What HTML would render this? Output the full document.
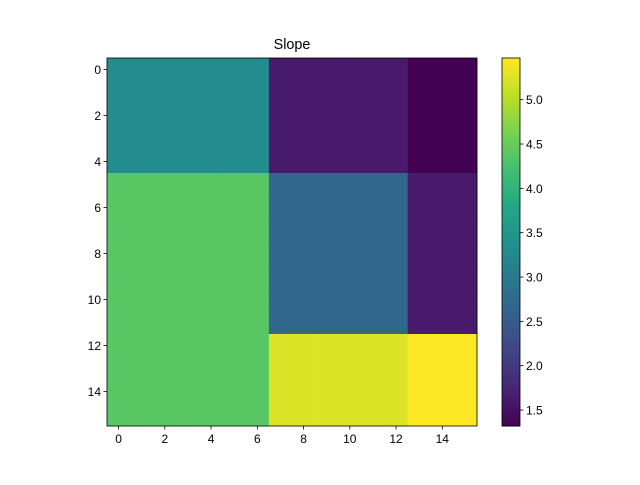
<!DOCTYPE html>
<html><head><meta charset="utf-8"><style>
body{margin:0;background:#fff}
svg text{font-family:"Liberation Sans","DejaVu Sans",sans-serif;font-size:12px;fill:#000}
</style></head><body>
<svg id="chart" width="640" height="480" xmlns="http://www.w3.org/2000/svg">
<rect width="640" height="480" fill="#fff"/>
<text x="292" y="49" text-anchor="middle" style="font-size:14.4px">Slope</text>
<g id="cells"></g><g id="axes"></g><g id="cbar"></g>
</svg>
<script>
const rowBlocks = [5, 7, 4];
const colBlocks = [7, 6, 3];
const blockValues = [
  [3.31, 1.62, 1.32],
  [4.39, 2.69, 1.62],
  [4.39, 5.26, 5.47]
];
const xTicks = [0, 2, 4, 6, 8, 10, 12, 14];
const yTicks = [0, 2, 4, 6, 8, 10, 12, 14];
const cbTicks = [1.5, 2.0, 2.5, 3.0, 3.5, 4.0, 4.5, 5.0];
const vmin = 1.32, vmax = 5.47;

const NS = "http://www.w3.org/2000/svg";
const L = 107, R = 477, T = 58, B = 426;
const nCols = colBlocks.reduce((a,b)=>a+b,0), nRows = rowBlocks.reduce((a,b)=>a+b,0);
const xs = v => L + (v + 0.5) * (R - L) / nCols;
const ys = v => T + (v + 0.5) * (B - T) / nRows;
const vir = ["#440154","#482475","#414487","#355f8d","#2a788e","#21918c","#22a884","#44bf70","#7ad151","#bddf26","#fde725"];
function hex(h){return [1,3,5].map(i=>parseInt(h.substr(i,2),16));}
function cmap(v){
  let t = Math.max(0, Math.min(1, (v - vmin) / (vmax - vmin))) * 10;
  let i = Math.min(9, Math.floor(t)), f = t - i;
  const a = hex(vir[i]), b = hex(vir[i+1]);
  return "rgb(" + a.map((c,k)=>Math.round(c + (b[k]-c)*f)).join(",") + ")";
}
function mk(tag, attrs, parent){
  const e = document.createElementNS(NS, tag);
  for (const k in attrs) e.setAttribute(k, attrs[k]);
  parent.appendChild(e); return e;
}
const cells = document.getElementById("cells");
let r0 = 0;
rowBlocks.forEach((rn, ri) => {
  let c0 = 0;
  colBlocks.forEach((cn, ci) => {
    for (let r = r0; r < r0 + rn; r++) for (let c = c0; c < c0 + cn; c++) {
      const x1 = xs(c - 0.5), x2 = xs(c + 0.5), y1 = ys(r - 0.5), y2 = ys(r + 0.5);
      const el = mk("rect", {x: x1, y: y1, width: x2 - x1 + 0.3, height: y2 - y1 + 0.3, fill: cmap(blockValues[ri][ci])}, cells);
      
      
    }
    c0 += cn;
  });
  r0 += rn;
});
const axes = document.getElementById("axes");
const fr = mk("rect", {x: L, y: T, width: R - L, height: B - T, fill: "none", stroke: "#000", "stroke-width": 0.8}, axes);


xTicks.forEach(v => {
  const x = xs(v);
  mk("line", {x1: x, x2: x, y1: B, y2: B + 3.5, stroke: "#000", "stroke-width": 0.8}, axes);
  const t = mk("text", {x: x, y: B + 17, "text-anchor": "middle"}, axes);
  t.textContent = v;
  
  
});
yTicks.forEach(v => {
  const y = ys(v);
  mk("line", {x1: L - 3.5, x2: L, y1: y, y2: y, stroke: "#000", "stroke-width": 0.8}, axes);
  const t = mk("text", {x: L - 6, y: y + 4.5, "text-anchor": "end"}, axes);
  t.textContent = v;
  
  
});
const cb = document.getElementById("cbar");
const CL = 502, CR = 520;
const cy = v => B - (v - vmin) / (vmax - vmin) * (B - T);
const steps = 200;
for (let i = 0; i < steps; i++) {
  const v1 = vmin + (vmax - vmin) * i / steps, v2 = vmin + (vmax - vmin) * (i + 1) / steps;
  mk("rect", {x: CL, y: cy(v2), width: CR - CL, height: cy(v1) - cy(v2) + 0.5, fill: cmap((v1 + v2) / 2)}, cb);
}
const cf = mk("rect", {x: CL, y: T, width: CR - CL, height: B - T, fill: "none", stroke: "#000", "stroke-width": 0.8}, cb);


cbTicks.forEach(v => {
  const y = cy(v);
  mk("line", {x1: CR, x2: CR + 3.5, y1: y, y2: y, stroke: "#000", "stroke-width": 0.8}, cb);
  const t = mk("text", {x: CR + 6, y: y + 4.5}, cb);
  t.textContent = v.toFixed(1);
  
  
});
</script>
</body></html>
